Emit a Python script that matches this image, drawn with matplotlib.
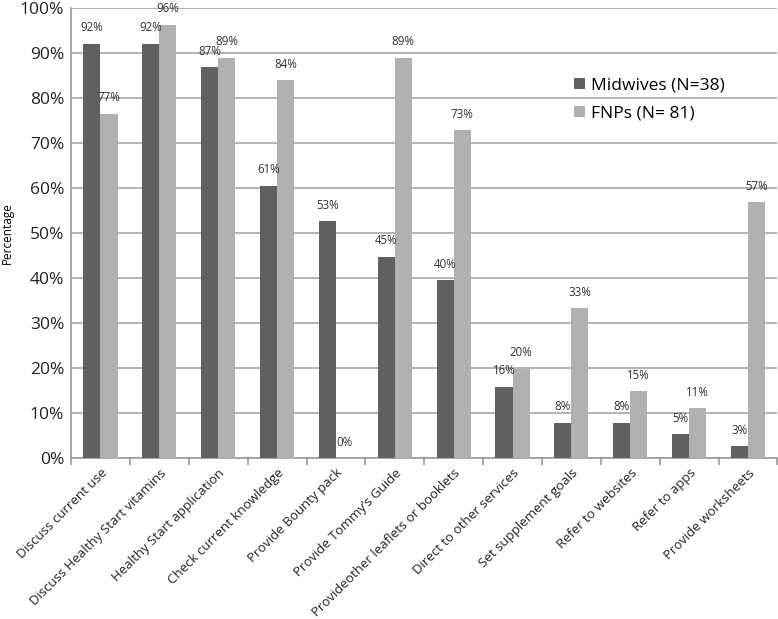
import numpy as np
import matplotlib
matplotlib.use('Agg')
import matplotlib.pyplot as plt
from matplotlib.ticker import MultipleLocator, FixedLocator, PercentFormatter

plt.rcParams['font.family'] = ['Open Sans', 'DejaVu Sans']

categories = ['Discuss current use', 'Discuss Healthy Start vitamins', 'Healthy Start application',
              'Check current knowledge', 'Provide Bounty pack', 'Provide Tommy\u2019s Guide',
              'Provideother leaflets or booklets', 'Direct to other services', 'Set supplement goals',
              'Refer to websites', 'Refer to apps', 'Provide worksheets']
midwives = [92.1, 92.1, 86.8, 60.5, 52.6, 44.7, 39.5, 15.8, 7.9, 7.9, 5.3, 2.6]
fnps = [76.5, 96.3, 88.9, 84.0, 0.0, 88.9, 72.8, 19.8, 33.3, 14.8, 11.1, 56.8]
midwives_lbl = ['92%', '92%', '87%', '61%', '53%', '45%', '40%', '16%', '8%', '8%', '5%', '3%']
fnps_lbl = ['77%', '96%', '89%', '84%', '0%', '89%', '73%', '20%', '33%', '15%', '11%', '57%']

fig = plt.figure(figsize=(7.78, 6.19), dpi=100)
ax = fig.add_axes([0.0913, 0.26, 0.908, 0.727])

x = np.arange(len(categories))
w = 0.29
b1 = ax.bar(x - w / 2, midwives, w, color='#606060', label='Midwives (N=38)', zorder=3)
b2 = ax.bar(x + w / 2, fnps, w, color='#b0b0b0', label='FNPs (N= 81)', zorder=3)

for bars, lbls in [(b1, midwives_lbl), (b2, fnps_lbl)]:
    for rect, t in zip(bars, lbls):
        ax.annotate(t, (rect.get_x() + rect.get_width() / 2, rect.get_height()),
                    xytext=(0, 16), textcoords='offset pixels', ha='center', va='center',
                    fontsize=8.3, color='#303030', zorder=4)

ax.set_ylim(0, 100)
ax.set_xlim(-0.5, len(categories) - 0.5)
ax.yaxis.set_major_locator(MultipleLocator(10))
ax.yaxis.set_major_formatter(PercentFormatter(decimals=0))
ax.grid(axis='y', color='#a6a6a6', linewidth=1.2, zorder=0)
ax.tick_params(axis='y', length=0, labelsize=12.5, pad=5, labelcolor='#222222')

ax.set_xticks(x)
ax.set_xticklabels(categories, rotation=45, ha='right', rotation_mode='anchor', fontsize=9.5,
                   color='#222222')
ax.tick_params(axis='x', which='major', length=0, pad=6)
ax.xaxis.set_minor_locator(FixedLocator(np.arange(-0.5, len(categories), 1.0)))
ax.tick_params(axis='x', which='minor', length=5, color='#999999', width=1.2)

for s in ['top', 'right']:
    ax.spines[s].set_visible(False)
for s in ['left', 'bottom']:
    ax.spines[s].set_color('#999999')
    ax.spines[s].set_linewidth(1.2)

ax.set_ylabel('Percentage', fontsize=8.5, labelpad=4)

ax.legend(loc='upper left', bbox_to_anchor=(0.69, 0.88), frameon=False, fontsize=12.5,
          handlelength=0.6, handleheight=0.6, handletextpad=0.4, labelspacing=0.7)

fig.savefig('out.png', dpi=100)
